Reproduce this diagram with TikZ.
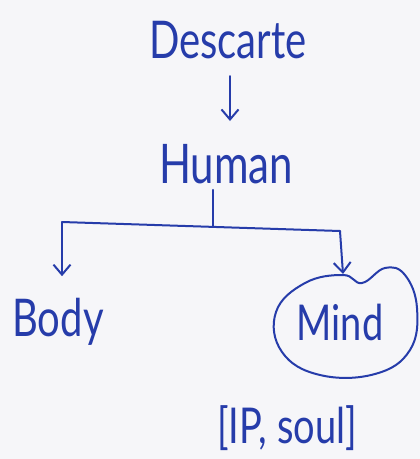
\documentclass[tikz,border=0pt]{standalone}
\usepackage{fontspec}
\setmainfont{Lato}
\usetikzlibrary{arrows.meta}
\definecolor{ink}{RGB}{38,60,170}
\definecolor{paper}{RGB}{246,246,249}
\newcommand{\tall}[1]{\scalebox{1}[1.3]{#1}}
\begin{document}
\begin{tikzpicture}[x=1pt,y=-1pt,
  txt/.style={text=ink, inner sep=0pt},
  pen/.style={draw=ink, line width=2pt, line cap=round, line join=round},
  conn/.style={pen, -{Straight Barb[length=10pt,width=17pt,line width=2pt]}}]
\fill[paper] (0,0) rectangle (420,459);
\useasboundingbox (0,0) rectangle (420,459);
\node[txt, font=\fontsize{40}{46}\selectfont] (desc) at (228,40) {\tall{Descarte}};
\node[txt, font=\fontsize{42}{48}\selectfont] (human) at (226,164) {\tall{Human}};
\node[txt, font=\fontsize{40}{46}\selectfont] (body) at (58,322) {\tall{Body}};
\node[txt, font=\fontsize{38}{44}\selectfont] (mind) at (340,322) {\tall{Mind}};
\node[txt, font=\fontsize{38}{44}\selectfont] (ip) at (287,428) {\tall{[IP, soul]}};
\coordinate (j) at (213,226);
\coordinate (l) at (62,222);
\coordinate (r) at (340,231);
\coordinate (mtop) at (343,274);
\draw[conn] (230,76) -- (230,121);
\draw[pen, shorten <=6pt] (j |- human.south) -- (j);
\draw[pen] (l) -- (r);
\draw[conn, shorten >=22pt] (l) -- (l |- body.north);
\draw[conn] (r) -- (mtop);
\draw[pen] plot[smooth cycle, tension=0.7] coordinates {(343,275) (305,283) (276,312) (282,352) (320,375) (375,374) (410,350) (417,308) (405,275) (385,268) (362,283)};
\end{tikzpicture}
\end{document}
